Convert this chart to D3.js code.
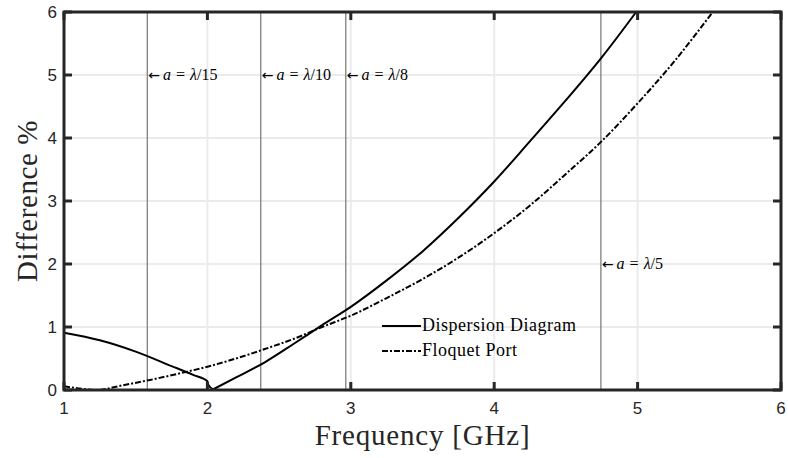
<!DOCTYPE html>
<html><head><meta charset="utf-8">
<script src="https://cdn.jsdelivr.net/npm/d3@7"></script>
<style>body{margin:0;background:#fff}</style>
</head><body>
<svg id="c" width="788" height="458"></svg>
<script>
const xTicks = [1,2,3,4,5,6];
const yTicks = [0,1,2,3,4,5,6];
const dispFreq = [1.0,1.25,1.5,1.75,1.9,2.0,2.005,2.04,2.2,2.4,2.6,2.8,3.0,3.25,3.5,3.75,4.0,4.25,4.5,4.75,4.99];
const dispVal  = [0.91,0.79,0.61,0.38,0.24,0.14,0.09,0.01,0.20,0.44,0.73,1.03,1.32,1.74,2.20,2.73,3.31,3.95,4.60,5.28,6.0];
const floqFreq = [1.0,1.1,1.23,1.4,1.6,1.8,2.0,2.2,2.4,2.6,2.8,3.0,3.25,3.5,3.75,4.0,4.25,4.5,4.75,5.0,5.25,5.524];
const floqVal  = [0.06,0.025,0.0,0.07,0.16,0.26,0.37,0.50,0.65,0.81,1.0,1.18,1.46,1.76,2.10,2.49,2.93,3.43,3.95,4.55,5.20,6.0];
const markFreq = [1.581,2.372,2.965,4.744];
const markDen = ["15","10","8","5"];
const markY = [5,5,5,2];
const seriesNames = ["Dispersion Diagram","Floquet Port"];

const svg = d3.select("#c");
const m = {l:64,r:7,t:12,b:68};
const W = 788, H = 458;
const x = d3.scaleLinear().domain([1,6]).range([m.l, W-m.r]);
const y = d3.scaleLinear().domain([0,6]).range([H-m.b, m.t]);
const axisCol = "#262626";
const serif = "'Liberation Serif', 'Times New Roman', serif";

// grid
svg.append("g").selectAll("line").data(xTicks).join("line")
  .attr("x1",d=>x(d)).attr("x2",d=>x(d)).attr("y1",y(0)).attr("y2",y(6))
  .attr("stroke","#ebebeb").attr("stroke-width",2);
svg.append("g").selectAll("line").data(yTicks).join("line")
  .attr("y1",d=>y(d)).attr("y2",d=>y(d)).attr("x1",x(1)).attr("x2",x(6))
  .attr("stroke","#ebebeb").attr("stroke-width",2);

// marker lines
svg.append("g").selectAll("line").data(markFreq).join("line")
  .attr("x1",d=>x(d)).attr("x2",d=>x(d)).attr("y1",y(0)).attr("y2",y(6))
  .attr("stroke","#7f7f7f").attr("stroke-width",1.3);
svg.append("g").selectAll("text").data(markFreq).join("text")
  .attr("x",d=>x(d)+1).attr("y",(d,i)=>y(markY[i])+5)
  .attr("font-family",serif).attr("font-size",16)
  .attr("fill","#000")
  .each(function(d,i){
    const t = d3.select(this);
    t.append("tspan").attr("font-family","'DejaVu Sans', sans-serif").attr("font-size",14).text("←");
    t.append("tspan").attr("dx",3).attr("font-style","italic").text("a");
    t.append("tspan").attr("dx",5).text("=");
    t.append("tspan").attr("dx",5).attr("font-style","italic").text("λ");
    t.append("tspan").text("/" + markDen[i]);
  });

// curves
const line = d3.line().x(d=>x(d[0])).y(d=>y(d[1])).curve(d3.curveMonotoneX);
const disp = dispFreq.map((f,i)=>[f,dispVal[i]]);
const floq = floqFreq.map((f,i)=>[f,floqVal[i]]);
const iMin = d3.minIndex(dispVal);
svg.append("path").datum(disp.slice(0,iMin+1)).attr("d",line).attr("fill","none")
  .attr("stroke","#000").attr("stroke-width",2);
svg.append("path").datum(disp.slice(iMin)).attr("d",line).attr("fill","none")
  .attr("stroke","#000").attr("stroke-width",2);
svg.append("path").datum(floq).attr("d",line).attr("fill","none")
  .attr("stroke","#000").attr("stroke-width",2).attr("stroke-dasharray","6,2,2,2");

// frame
svg.append("rect").attr("x",x(1)).attr("y",y(6)).attr("width",x(6)-x(1)).attr("height",y(0)-y(6))
  .attr("fill","none").attr("stroke",axisCol).attr("stroke-width",3);
// ticks
const tl = 8;
const tg = svg.append("g").attr("stroke",axisCol).attr("stroke-width",3);
xTicks.forEach(d=>{
  tg.append("line").attr("x1",x(d)).attr("x2",x(d)).attr("y1",y(0)).attr("y2",y(0)-tl);
  tg.append("line").attr("x1",x(d)).attr("x2",x(d)).attr("y1",y(6)).attr("y2",y(6)+tl);
});
yTicks.forEach(d=>{
  tg.append("line").attr("y1",y(d)).attr("y2",y(d)).attr("x1",x(1)).attr("x2",x(1)+tl);
  tg.append("line").attr("y1",y(d)).attr("y2",y(d)).attr("x1",x(6)).attr("x2",x(6)-tl);
});
// tick labels
svg.append("g").selectAll("text").data(xTicks).join("text")
  .attr("x",d=>x(d)).attr("y",y(0)+24).attr("text-anchor","middle")
  .attr("font-family","'Liberation Sans', Arial, sans-serif").attr("font-size",17)
  .attr("fill",axisCol).text(d=>d);
svg.append("g").selectAll("text").data(yTicks).join("text")
  .attr("x",x(1)-7).attr("y",d=>y(d)+6).attr("text-anchor","end")
  .attr("font-family","'Liberation Sans', Arial, sans-serif").attr("font-size",17)
  .attr("fill",axisCol).text(d=>d);

// axis titles
svg.append("text").attr("x",(x(1)+x(6))/2).attr("y",445).attr("text-anchor","middle")
  .attr("font-family",serif).attr("font-size",29).attr("letter-spacing",0.8).attr("fill","#262626")
  .text("Frequency [GHz]");
svg.append("text").attr("transform",`translate(37,${(y(0)+y(6))/2}) rotate(-90)`)
  .attr("text-anchor","middle")
  .attr("font-family",serif).attr("font-size",29).attr("letter-spacing",0.6).attr("fill","#262626")
  .text("Difference %");

// legend
const lg = svg.append("g");
const ly = [326,351];
seriesNames.forEach((n,i)=>{
  lg.append("line").attr("x1",382).attr("x2",421).attr("y1",ly[i]).attr("y2",ly[i])
    .attr("stroke","#000").attr("stroke-width",2)
    .attr("stroke-dasharray", i===1 ? "6,2,2,2" : null);
  lg.append("text").attr("x",422).attr("y",ly[i]+5)
    .attr("font-family",serif).attr("font-size",18).attr("letter-spacing",0.5).attr("fill","#000")
    .text(n);
});
</script>
</body></html>
